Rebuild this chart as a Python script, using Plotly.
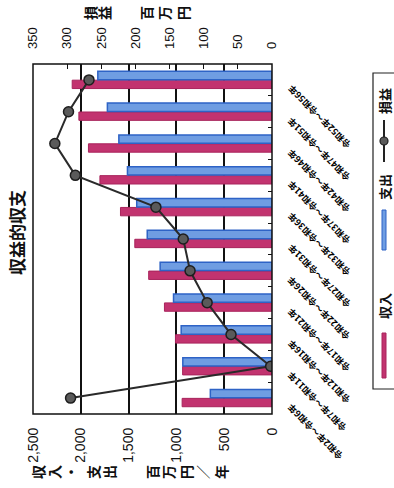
import plotly.graph_objects as go

# 収益的収支（期間別）
periods = [
    "令和2年～令和6年", "令和7年～令和11年", "令和12年～令和16年", "令和17年～令和21年",
    "令和22年～令和26年", "令和27年～令和31年", "令和32年～令和36年", "令和37年～令和41年",
    "令和42年～令和46年", "令和47年～令和51年", "令和52年～令和56年",
]
revenue = [940, 935, 1010, 1125, 1290, 1435, 1585, 1800, 1920, 2020, 2090]   # 収入 百万円/年
expense = [645, 933, 950, 1030, 1170, 1305, 1415, 1512, 1602, 1722, 1822]    # 支出 百万円/年
balance = [295, 2, 60, 95, 120, 130, 170, 288, 318, 298, 268]                # 損益 百万円

money_ticks = [0, 500, 1000, 1500, 2000, 2500]
balance_ticks = [0, 50, 100, 150, 200, 250, 300, 350]

W, H = 394, 488
L, R, T, B = 33, 122, 64, 74
PW, PH = W - L - R, H - T - B

def px(x):
    return (x - L) / PW

def py(y):
    return (H - B - y) / PH

JP = "Noto Sans CJK JP"
NUM = "Liberation Sans, Arial"
PINK = "#C2336F"
BLUE = "#6F9DE2"
BLUE_EDGE = "#2E63C6"

fig = go.Figure()
fig.add_trace(go.Bar(
    y=periods, x=revenue, orientation="h", name="収入",
    marker=dict(color=PINK, line=dict(color="#A8245C", width=1)),
))
fig.add_trace(go.Bar(
    y=periods, x=expense, orientation="h", name="支出",
    marker=dict(color=BLUE, line=dict(color=BLUE_EDGE, width=1.5)),
))
fig.add_trace(go.Scatter(
    y=periods, x=balance, xaxis="x2", name="損益", mode="lines+markers",
    line=dict(color="#2a2a2a", width=2),
    marker=dict(size=10, color="#5a5a5a", line=dict(color="#1e1e1e", width=1.5)),
))

annotations = []
# 期間ラベル（斜め）
for p in periods:
    annotations.append(dict(
        x=1, xref="paper", xshift=10, y=p, yref="y",
        text=f"<b>{p}</b>", showarrow=False, textangle=-135,
        xanchor="left", yanchor="top",
        font=dict(family=JP, size=9, color="#000"),
    ))

def vtext(text, x, y, size, bold=False):
    t = f"<b>{text}</b>" if bold else text
    return dict(x=px(x), y=py(y), xref="paper", yref="paper", text=t,
                showarrow=False, textangle=-90, xanchor="center", yanchor="middle",
                font=dict(family=JP, size=size, color="#111"))

def char_row(chars, xs, y, size):
    # 縦書きの軸タイトル（1文字ずつ配置）
    return [vtext(c, x, y, size, bold=True) for c, x in zip(chars, xs)]

annotations += [
    vtext("収益的収支", 16, 233, 17, bold=True),
    vtext("損益", 384, 101, 13, bold=True),
    vtext("支出", 384, 187, 13, bold=True),
    vtext("収入", 384, 306, 13, bold=True),
]
annotations += char_row("収入・支出百万円／年",
                        [38, 54, 70, 93, 109, 152, 168, 186, 202, 221], 472, 14)
annotations += char_row("損益百万円", [90, 104, 146, 164, 183], 13, 14)

shapes = [
    # プロット枠
    dict(type="rect", xref="paper", yref="paper", x0=0, x1=1, y0=0, y1=1,
         line=dict(color="#111", width=1.5)),
    # 凡例枠
    dict(type="rect", xref="paper", yref="paper", x0=px(373), x1=px(400), y0=py(73), y1=py(389),
         line=dict(color="#222", width=1.2)),
    # 凡例記号
    dict(type="line", xref="paper", yref="paper", x0=px(384), x1=px(384), y0=py(120), y1=py(162),
         line=dict(color="#222", width=2)),
    dict(type="circle", xref="paper", yref="paper", x0=px(380), x1=px(388), y0=py(137), y1=py(145),
         fillcolor="#5a5a5a", line=dict(color="#1e1e1e", width=1.2)),
    dict(type="rect", xref="paper", yref="paper", x0=px(382), x1=px(386), y0=py(210), y1=py(250),
         fillcolor=BLUE, line=dict(color=BLUE_EDGE, width=1)),
    dict(type="rect", xref="paper", yref="paper", x0=px(382), x1=px(386), y0=py(333), y1=py(378),
         fillcolor=PINK, line=dict(color="#A8245C", width=1)),
]

fig.update_layout(
    width=W, height=H,
    margin=dict(l=L, r=R, t=T, b=B, pad=0),
    paper_bgcolor="white", plot_bgcolor="white",
    showlegend=False,
    barmode="group", bargap=0.44, bargroupgap=0.06,
    xaxis=dict(
        range=[2500, 0], tickvals=money_ticks, tickformat=",d", tickangle=-90,
        showgrid=True, gridcolor="#111", gridwidth=1.5, zeroline=False,
        ticks="", ticklabelstandoff=10,
        tickfont=dict(family=NUM, size=14, color="#111"),
    ),
    xaxis2=dict(
        range=[350, 0], tickvals=balance_ticks, overlaying="x", side="top",
        tickangle=-90, showgrid=False, zeroline=False,
        ticks="inside", ticklen=5, tickwidth=1.2, tickcolor="#111",
        ticklabelstandoff=14,
        tickfont=dict(family=NUM, size=13, color="#111"),
    ),
    yaxis=dict(
        side="right", showticklabels=False, showgrid=False, zeroline=False,
        range=[-0.5, len(periods) - 0.5], autorange=False,
        ticks="inside", tickson="boundaries", ticklen=4, tickcolor="#111",
    ),
    annotations=annotations,
    shapes=shapes,
)

fig.write_html("out.html")
